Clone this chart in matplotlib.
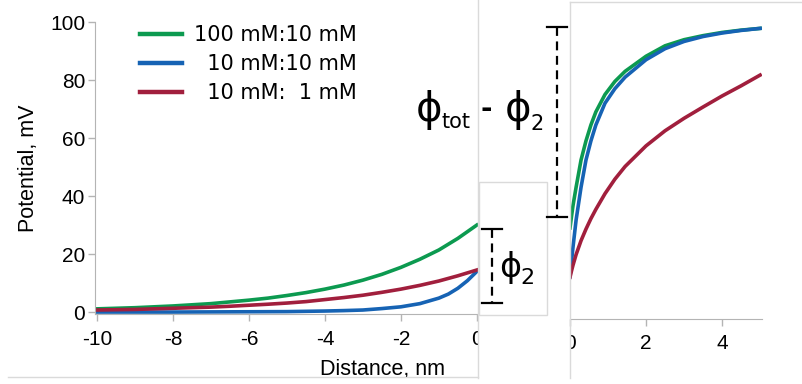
import matplotlib
matplotlib.use("Agg")
import matplotlib.pyplot as plt
from matplotlib.lines import Line2D
from matplotlib.patches import Rectangle
from matplotlib.transforms import Bbox

# -------------------------------------------------------------------------
# data
# -------------------------------------------------------------------------
labels = ["100 mM:10 mM", "  10 mM:10 mM", "  10 mM:  1 mM"]
colors = ["#0c9a50", "#1663b4", "#a11f3d"]

dist_left = [-10, -9.5, -9, -8.5, -8, -7.5, -7, -6.5, -6, -5.5, -5,
             -4.5, -4, -3.5, -3, -2.5, -2, -1.5, -1, -0.5, 0]
green_left = [1.1, 1.3, 1.5, 1.8, 2.1, 2.5, 2.9, 3.5, 4.1, 4.8, 5.7,
              6.7, 7.9, 9.3, 11.0, 13.0, 15.4, 18.2, 21.4, 25.4, 30.0]
red_left = [0.7, 0.8, 0.9, 1.1, 1.3, 1.5, 1.7, 2.0, 2.35, 2.7, 3.1,
            3.6, 4.3, 5.0, 5.8, 6.8, 7.9, 9.2, 10.7, 12.5, 14.5]

dist_left_blue = [-10, -9, -8, -7, -6, -5, -4.5, -4, -3.5, -3, -2.5,
                  -2, -1.5, -1, -0.75, -0.5, -0.25, 0]
blue_left = [0.0, 0.0, 0.0, 0.05, 0.1, 0.15, 0.25, 0.35, 0.5, 0.7, 1.2,
             1.8, 2.9, 4.8, 6.2, 8.2, 10.8, 14.0]

dist_right = [0, 0.04, 0.08, 0.16, 0.29, 0.42, 0.55, 0.68, 0.92, 1.18,
              1.45, 2, 2.5, 3, 3.5, 4, 4.5, 5]
green_right = [29, 33, 36.8, 43, 52.4, 59, 64.5, 69, 75, 79.5,
               83, 88.2, 91.8, 93.9, 95.3, 96.4, 97.2, 97.8]
blue_right = [12.2, 17.5, 22.5, 31.7, 43, 52.4, 59, 64.5, 72, 77,
              81, 87, 90.8, 93.3, 95, 96.2, 97.1, 97.8]
red_right = [12, 14.2, 16.2, 19.8, 24.6, 28.6, 32.2, 35.4, 40.8, 45.8,
             50.2, 57.3, 62.5, 66.8, 70.7, 74.5, 78, 81.7]

xticks_left = [-10, -8, -6, -4, -2, 0]
yticks_left = [0, 20, 40, 60, 80, 100]
xticks_right = [0, 2, 4]

# -------------------------------------------------------------------------
# helpers: work in reference pixels (origin top-left)
# -------------------------------------------------------------------------
W, H = 803, 384
fig = plt.figure(figsize=(W / 100, H / 100), dpi=100)


def fx(x):
    return x / W


def fy(y):
    return 1 - y / H


def add_ax(x0, y0, x1, y1):
    return fig.add_axes([fx(x0), fy(y1), fx(x1) - fx(x0), fy(y0) - fy(y1)])


def fline(xs, ys, **kw):
    fig.add_artist(Line2D([fx(v) for v in xs], [fy(v) for v in ys],
                          transform=fig.transFigure, **kw))


grey = "#b4b4b4"
border = "#dadada"
tick_font = {"family": "Liberation Sans", "size": 15}

# ---------------- left panel ----------------
axl = add_ax(95, 22, 478, 313.5)
axl.plot(dist_left, green_left, color=colors[0], lw=2.6, label=labels[0])
axl.plot(dist_left_blue, blue_left, color=colors[1], lw=2.6, label=labels[1])
axl.plot(dist_left, red_left, color=colors[2], lw=2.6, label=labels[2])
axl.set_xlim(-10.05, 0.03)
axl.set_ylim(-0.5, 100)
axl.set_xticks(xticks_left)
axl.set_yticks(yticks_left)
axl.set_xticklabels([str(v) for v in xticks_left], fontdict=tick_font)
axl.set_yticklabels([str(v) for v in yticks_left], fontdict=tick_font)
for s in ["top", "right"]:
    axl.spines[s].set_visible(False)
for s in ["left", "bottom"]:
    axl.spines[s].set_color(grey)
axl.tick_params(colors=grey, labelcolor="black", length=5, width=1)
axl.tick_params(axis="x", pad=7)
axl.tick_params(axis="y", pad=2)
axl.set_xlabel("Distance, nm", family="Liberation Sans", fontsize=15.5)
axl.xaxis.set_label_coords(0.75, -0.155)
axl.set_ylabel("Potential, mV", family="Liberation Sans", fontsize=15.5,
               labelpad=8)

leg = axl.legend(loc="upper left", bbox_to_anchor=(fx(140), fy(25)),
                 bbox_transform=fig.transFigure, frameon=False,
                 prop={"family": "DejaVu Sans", "size": 15},
                 handlelength=2.0, handletextpad=0.6, labelspacing=0.44,
                 borderpad=0, borderaxespad=0)
for ln in leg.get_lines():
    ln.set_linewidth(3.2)

clip_left = Bbox.from_extents(0, 0, 478, H)
for lbl in axl.get_xticklabels():
    lbl.set_clip_box(clip_left)
    lbl.set_clip_on(True)

# ---------------- right panel ----------------
axr = add_ax(570, 2, 762, 319)
axr.plot(dist_right, green_right, color=colors[0], lw=2.6)
axr.plot(dist_right, blue_right, color=colors[1], lw=2.6)
axr.plot(dist_right, red_right, color=colors[2], lw=2.6)
axr.set_xlim(0, 5.05)
axr.set_ylim(-2.4, 106.9)
axr.set_xticks(xticks_right)
axr.set_xticklabels([str(v) for v in xticks_right], fontdict=tick_font)
axr.set_yticks([])
for s in ["top", "right", "left"]:
    axr.spines[s].set_visible(False)
axr.spines["bottom"].set_color(grey)
axr.tick_params(colors=grey, labelcolor="black", length=5, width=1, pad=6)
axr.patch.set_alpha(0)

clip_right = Bbox.from_extents(570, 0, W, H)
for lbl in axr.get_xticklabels():
    lbl.set_clip_box(clip_right)
    lbl.set_clip_on(True)

# ---------------- panel borders ----------------
fline([8, 478], [377, 377], color=border, lw=1)
fline([478, 478], [0, 378], color=border, lw=1)
fline([570, 570], [2, 378], color=border, lw=1)
fline([570, 803], [2, 2], color=border, lw=1)

# inset box over the end of the left panel
fig.add_artist(Rectangle((fx(479), fy(315)), fx(547) - fx(479), fy(182) - fy(315),
                         transform=fig.transFigure, facecolor="white",
                         edgecolor=border, lw=1, zorder=5))

# ---------------- brackets + labels ----------------
dash = dict(color="black", lw=1.6, ls=(0, (4, 2.5)), zorder=6)
cap = dict(color="black", lw=1.6, zorder=6)
fline([557, 557], [27, 217], **dash)
fline([547, 567], [27, 27], **cap)
fline([547, 567], [217, 217], **cap)
fline([492, 492], [229, 303], **dash)
fline([482, 502], [229, 229], **cap)
fline([482, 502], [303, 303], **cap)

txt = dict(family="DejaVu Sans", color="black", zorder=7)
fig.text(fx(416), fy(110), "ϕ", fontsize=29, ha="left", va="center", **txt)
fig.text(fx(442), fy(128), "tot", fontsize=15, ha="left", va="baseline", **txt)
fig.text(fx(486), fy(109), "-", fontsize=20, ha="center", va="center",
         weight="bold", **txt)
fig.text(fx(505), fy(110), "ϕ", fontsize=29, ha="left", va="center", **txt)
fig.text(fx(531), fy(130), "2", fontsize=15, ha="left", va="baseline", **txt)

fig.text(fx(499), fy(267), "ϕ", fontsize=24, ha="left", va="center", **txt)
fig.text(fx(520), fy(284), "2", fontsize=16, ha="left", va="baseline", **txt)

fig.savefig("out.png", dpi=100)
